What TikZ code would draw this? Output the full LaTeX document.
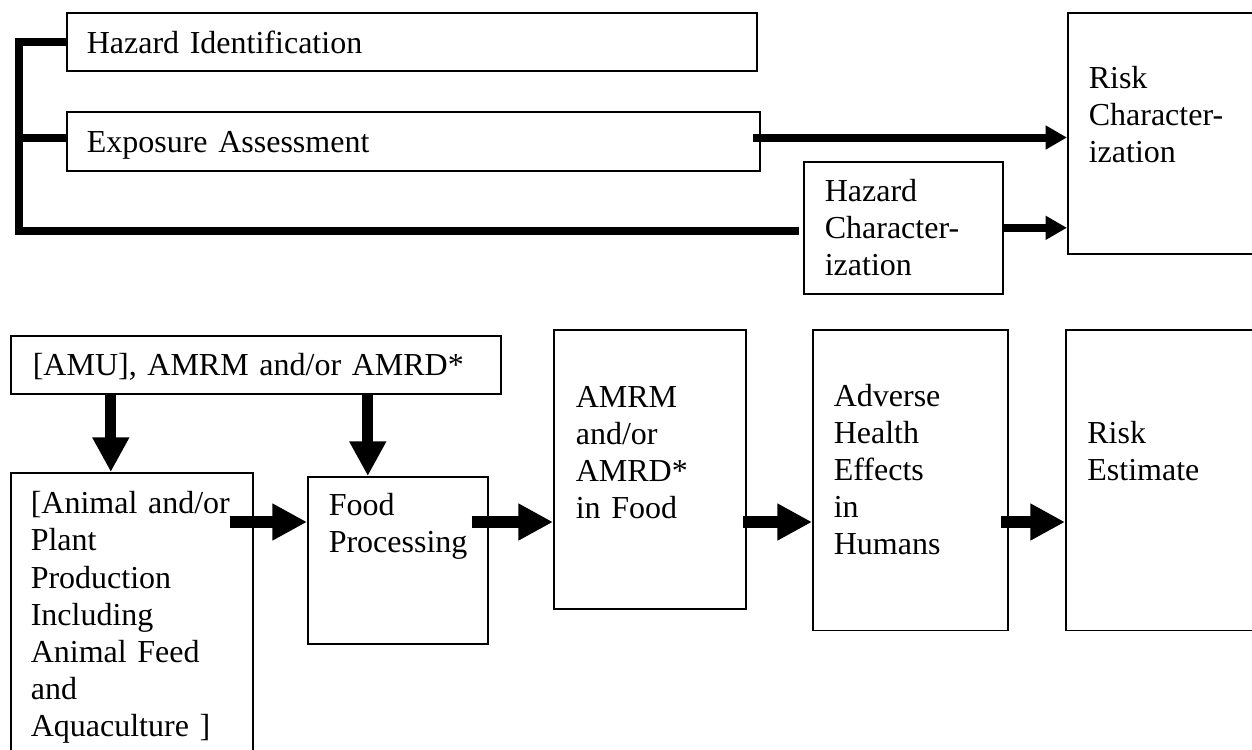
\documentclass[tikz,border=0pt]{standalone}
\usepackage{fontspec}
\setmainfont{Liberation Serif}
\usepackage{tikz}
\usetikzlibrary{arrows.meta,calc}
\hyphenpenalty=10000
\exhyphenpenalty=10000
\tikzset{
  stage/.style={draw,line width=0.6pt,anchor=north west,align=left,inner ysep=0pt,font=\fontsize{12pt}{13.9pt}\selectfont},
  bracket/.style={line width=3pt},
  slimarrow/.style={-{Triangle[length=8pt,width=8.5pt]},line width=3pt},
  fatarrow/.style={-{Triangle[length=13pt,width=13pt]},line width=4.2pt}
}
\begin{document}
\begin{tikzpicture}[x=0.375pt,y=-0.375pt]
  \useasboundingbox (0,0) rectangle (1252,749);
  \node[stage,text width=243.75pt,inner xsep=7.5pt,text height=15.26pt,text depth=6.49pt] (hazid) at (66,12) {Hazard Identification};
  \node[stage,text width=244.9pt,inner xsep=7.5pt,text height=15.26pt,text depth=6.86pt] (expo) at (66,111) {Exposure Assessment};
  \node[stage,text width=58.9pt,inner xsep=7.875pt,text height=15pt,text depth=34.5pt] (hazchar) at (803,161) {Hazard\\Character-\\ization};
  \node[stage,text width=57.4pt,inner xsep=7.875pt,text height=28.5pt,text depth=61.9pt] (riskchar) at (1067,12) {Risk\\Character-\\ization};
  \coordinate (foot) at (19,231);
  \coordinate (upper) at (0,137.5);
  \draw[bracket] (hazid.west) -| (foot) -- ([xshift=-1.5pt]hazchar.west |- foot);
  \draw[bracket] (expo.west |- upper) -- (foot |- upper);
  \draw[slimarrow,shorten <=-2.7pt] (expo.east |- upper) -- (riskchar.west |- upper);
  \draw[slimarrow] (hazchar.east) -- (riskchar.west |- hazchar.east);
  \node[stage,text width=167.25pt,inner xsep=8.25pt,text height=15pt,text depth=6.75pt] (amu) at (10,335) {[AMU], AMRM and/or AMRD*};
  \node[stage,text width=75.75pt,inner xsep=7.5pt,text height=15.4pt,text depth=107.6pt] (animal) at (10,472) {[Animal and/or\\Plant\\Production\\Including\\Animal Feed\\and\\Aquaculture ]};
  \node[stage,text width=51.75pt,inner xsep=7.875pt,text height=14.6pt,text depth=48pt] (food) at (307,476) {Food\\Processing};
  \node[stage,text width=55.5pt,inner xsep=8.25pt,text height=29.1pt,text depth=75.6pt] (amrm) at (553,329) {AMRM\\and/or\\AMRD*\\in Food};
  \node[stage,text width=57.4pt,inner xsep=7.875pt,text height=28.8pt,text depth=84pt] (adverse) at (812,329) {Adverse\\Health\\Effects\\in\\Humans};
  \node[stage,text width=57.4pt,inner xsep=8.1pt,text height=42.5pt,text depth=70.2pt] (riskest) at (1065,329) {Risk\\Estimate};
  \coordinate (drop1) at ([xshift=37.8pt]animal.north west);
  \coordinate (drop2) at ([xshift=22.8pt]food.north west);
  \coordinate (lane) at (0,522);
  \draw[fatarrow] (drop1 |- amu.south) -- (drop1);
  \draw[fatarrow] (drop2 |- amu.south) -- (drop2);
  \draw[fatarrow,shorten <=-9pt] (animal.east |- lane) -- (food.west |- lane);
  \draw[fatarrow,shorten <=-6.4pt] (food.east |- lane) -- (amrm.west |- lane);
  \draw[fatarrow,shorten <=-1.2pt] (amrm.east |- lane) -- (adverse.west |- lane);
  \draw[fatarrow,shorten <=-2.9pt] (adverse.east |- lane) -- (riskest.west |- lane);
\end{tikzpicture}
\end{document}
